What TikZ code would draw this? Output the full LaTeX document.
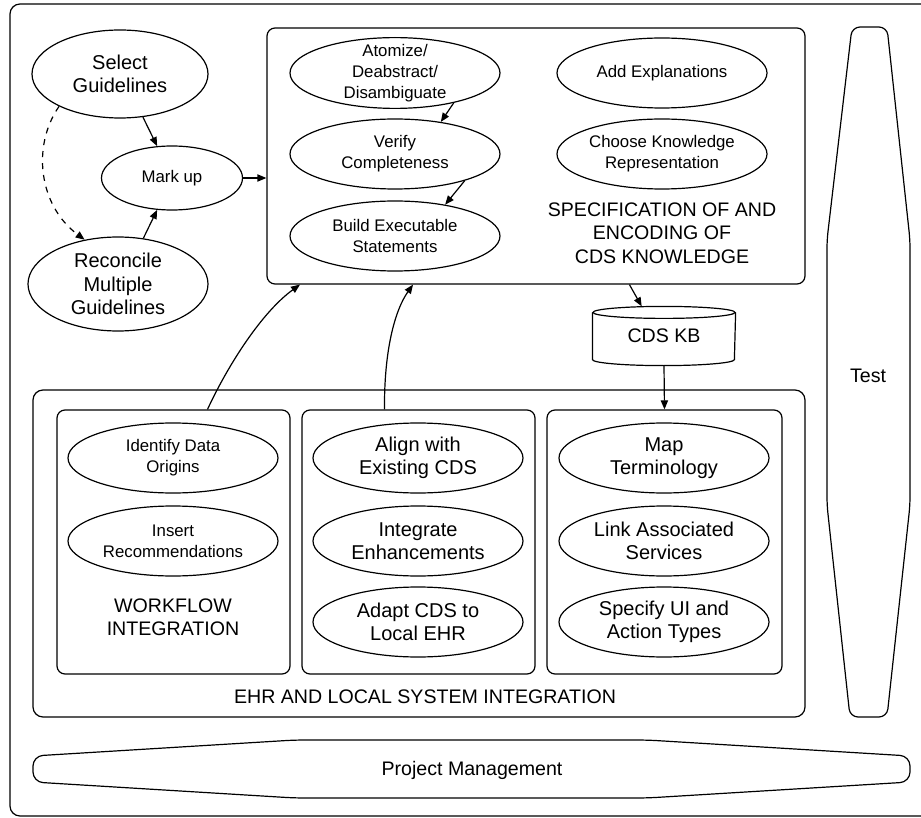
\documentclass[tikz,border=0pt]{standalone}
\usepackage{fontspec}
\setmainfont{Liberation Sans}
\usetikzlibrary{arrows.meta,shapes.geometric}

\newcommand{\tskbig}{\fontsize{10}{11.7}\selectfont}
\newcommand{\tsksmall}{\fontsize{8.4}{10.6}\selectfont}
\newcommand{\grpcap}{\fontsize{9.8}{11.7}\selectfont}

\begin{document}
\begin{tikzpicture}[x=0.5pt,y=-0.5pt,line width=0.6pt,
  task/.style={ellipse,draw,inner sep=0pt,align=center,minimum width=105pt,minimum height=35pt,font=\tsksmall},
  bigtask/.style={task,font=\tskbig},
  grp/.style={draw,rounded corners=4pt,inner sep=0pt},
  grplabel/.style={align=center,font=\grpcap},
  arr/.style={-{Triangle[length=4.5pt,width=3.6pt]}}]
\useasboundingbox (0,0) rectangle (921,818);
\draw[rounded corners=5pt] (10,4) rectangle (940,816);
\node[grp,minimum width=269pt,minimum height=128pt] (spec) at (536,156) {};
\node[grp,rounded corners=5pt,minimum width=386pt,minimum height=163.5pt] (ehr) at (419,553.5) {};
\node[grp,minimum width=116.5pt,minimum height=132pt] (wfbox) at (173.5,542) {};
\node[grp,minimum width=116.5pt,minimum height=132pt] (cdsbox) at (418.5,542) {};
\node[grp,minimum width=117.5pt,minimum height=132pt] (termbox) at (664.5,542) {};
\node[bigtask,minimum width=88pt,minimum height=44pt] (sel) at (120,74) {Select\\Guidelines};
\node[task,minimum width=70.5pt,minimum height=32pt] (markup) at (172,178) {Mark up};
\node[bigtask,minimum width=90pt,minimum height=47pt] (recon) at (118,284) {Reconcile\\Multiple\\Guidelines};
\node[task,inner sep=-2pt] (atom) at (395,73) {Atomize/\\Deabstract/\\Disambiguate};
\node[task] (verify) at (395,154) {Verify\\Completeness};
\node[task] (build) at (395,236) {Build Executable\\Statements};
\node[task] (expl) at (662,73) {Add Explanations};
\node[task] (repr) at (662,154) {Choose Knowledge\\Representation};
\node[grplabel] (speclbl) at (662,233) {SPECIFICATION OF AND\\ENCODING OF\\CDS KNOWLEDGE};
\node[font=\grpcap,minimum width=71pt,minimum height=29pt,inner sep=0pt] (kb) at (664,336) {CDS KB};
\draw ([yshift=-3pt]kb.north) ellipse [x radius=35.5pt,y radius=3pt];
\draw ([yshift=-3pt]kb.north west) -- ([yshift=3pt]kb.south west) arc[start angle=180,end angle=360,x radius=35.5pt,y radius=3pt] -- ([yshift=-3pt]kb.north east);
\node[task] (origins) at (173,458) {Identify Data\\Origins};
\node[task] (insert) at (173,541) {Insert\\Recommendations};
\node[grplabel] (wflbl) at (173,617) {WORKFLOW\\INTEGRATION};
\node[bigtask] (aligncds) at (418,458) {Align with\\Existing CDS};
\node[bigtask] (integ) at (418,541) {Integrate\\Enhancements};
\node[bigtask] (adapt) at (418,622) {Adapt CDS to\\Local EHR};
\node[bigtask] (mapterm) at (664,458) {Map\\Terminology};
\node[bigtask] (linksrv) at (664,541) {Link Associated\\Services};
\node[bigtask] (uitypes) at (664,622) {Specify UI and\\Action Types};
\node[grplabel] (ehrlbl) at (425,697) {EHR AND LOCAL SYSTEM INTEGRATION};
\draw[rounded corners=4pt] (852,27) -- (887,27) -- (910,240) -- (910,505) -- (887,717) -- (850,717) -- (827,505) -- (827,240) -- cycle;
\node[font=\grpcap] (test) at (868,376) {Test};
\draw[rounded corners=5pt] (33,756) -- (295,740) -- (647,740) -- (910,756) -- (910,782) -- (647,798) -- (295,798) -- (33,782) -- cycle;
\node[font=\grpcap] (pm) at (472,770) {Project Management};
\draw[arr] (sel.-62) -- (markup.115);
\draw[arr] (recon.61) -- (markup.-115);
\draw[arr] (markup.east) -- (markup.east -| spec.west);
\draw[arr,dashed] (sel.-152) .. controls (32,145) and (38,205) .. (recon.127);
\draw[arr] (atom.-27) -- (verify.35);
\draw[arr] (verify.-21) -- (build.32);
\draw[arr] (spec.-54.6) -- (kb.127);
\draw[arr] (kb.south) -- (termbox.north);
\draw[arr] ([xshift=17pt]wfbox.north) .. controls (228,365) and (262,312) .. ([xshift=-118pt]spec.south);
\draw[arr] ([xshift=-17pt]cdsbox.north) .. controls (384,350) and (395,310) .. ([xshift=-61.5pt]spec.south);
\end{tikzpicture}
\end{document}
